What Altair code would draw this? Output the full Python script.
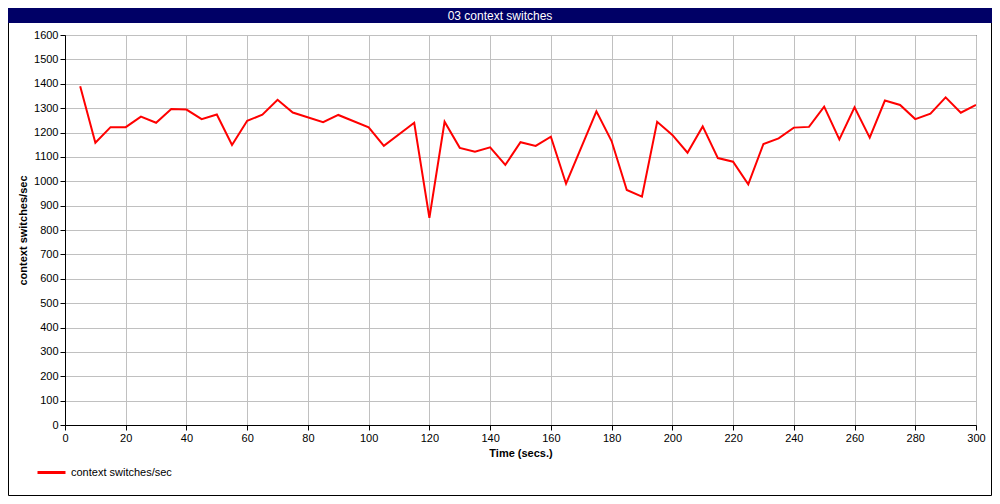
import altair as alt
import pandas as pd

times = [5, 10, 15, 20, 25, 30, 35, 40, 45, 50, 55, 60, 65, 70, 75, 85, 90, 100, 105,
         115, 120, 125, 130, 135, 140, 145, 150, 155, 160, 165, 175, 180, 185, 190, 195,
         200, 205, 210, 215, 220, 225, 230, 235, 240, 245, 250, 255, 260, 265, 270, 275,
         280, 285, 290, 295, 300]
values = [1390, 1158, 1222, 1222, 1265, 1240, 1296, 1294, 1255, 1274, 1149, 1248, 1273,
          1334, 1282, 1242, 1272, 1221, 1145, 1240, 850, 1244, 1137, 1121, 1139, 1067,
          1160, 1145, 1183, 990, 1287, 1165, 964, 937, 1244, 1190, 1117, 1225, 1095, 1080,
          987, 1153, 1176, 1220, 1223, 1306, 1172, 1303, 1179, 1331, 1313, 1255, 1277,
          1344, 1281, 1313]
series_name = "context switches/sec"
chart_title = "03 context switches"
x_ticks = list(range(0, 301, 20))
y_ticks = list(range(0, 1601, 100))

df = pd.DataFrame({"t": times, "v": values, "s": [series_name] * len(times)})
one = pd.DataFrame({"a": [0]})

FONT = "Liberation Sans"

line = alt.Chart(df).mark_line(strokeWidth=2, clip=True).encode(
    x=alt.X("t:Q", scale=alt.Scale(domain=[0, 300], nice=False, zero=False),
            axis=alt.Axis(values=x_ticks, title="Time (secs.)", grid=True, format="d",
                          gridColor="#c0c0c0", domainColor="black", tickColor="black",
                          tickSize=5, labelPadding=2, labelFontSize=11, labelColor="black",
                          labelFont=FONT, titleFont=FONT, titleFontSize=11,
                          titleFontWeight="bold", titleColor="black", titlePadding=4,
                          labelFlush=False)),
    y=alt.Y("v:Q", scale=alt.Scale(domain=[0, 1600], nice=False),
            axis=alt.Axis(values=y_ticks, title="context switches/sec", grid=True, format="d",
                          gridColor="#c0c0c0", domainColor="black", tickColor="black",
                          tickSize=5, labelPadding=2, labelFontSize=11, labelColor="black",
                          labelFont=FONT, titleFont=FONT, titleFontSize=11,
                          titleFontWeight="bold", titleColor="black", titlePadding=5)),
    color=alt.Color("s:N", scale=alt.Scale(domain=[series_name], range=["#ff0000"]),
                    legend=alt.Legend(title=None, orient="none", legendX=-29, legendY=422,
                                      symbolType="stroke", symbolSize=784,
                                      symbolStrokeWidth=3, labelFontSize=11,
                                      labelFont=FONT, labelColor="black", labelOffset=4)),
)

bar = alt.Chart(one).mark_rect(color="#000066", clip=False).encode(
    x=alt.value(-57), x2=alt.value(927), y=alt.value(-27), y2=alt.value(-12)
)
title = alt.Chart(one).mark_text(color="white", fontSize=12, font=FONT, clip=False).encode(
    x=alt.value(435), y=alt.value(-19.5), text=alt.value(chart_title)
)
frame = alt.Chart(one).mark_rect(fill=None, stroke="black", strokeWidth=1, clip=False).encode(
    x=alt.value(-56.5), x2=alt.value(926.5), y=alt.value(-26.5), y2=alt.value(460.5)
)

chart = alt.layer(frame, bar, line, title).properties(
    width=911, height=390, padding=0, background="white"
).configure_view(stroke="black", strokeWidth=1)

chart.save("out.html", embed_options={"renderer": "svg", "actions": False})
